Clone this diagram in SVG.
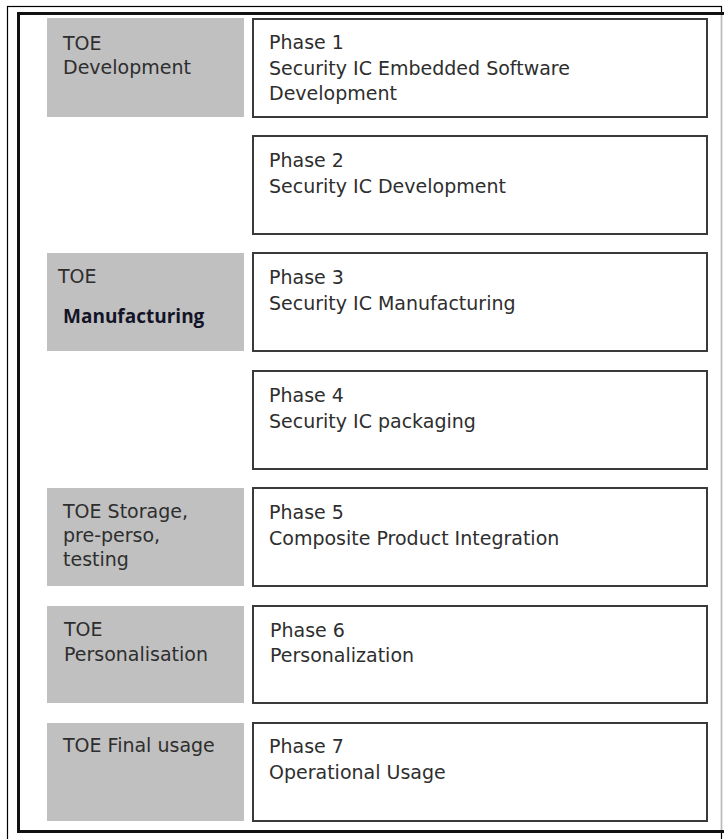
<svg xmlns="http://www.w3.org/2000/svg" width="724" height="839" viewBox="0 0 724 839">
<style>
.stage{fill:#c0c0c0;stroke:none}
.phase{fill:#ffffff;stroke:#3a3a3a;stroke-width:2}
.t{font-family:"DejaVu Sans",Verdana,sans-serif;font-size:19px;fill:#2e2e2e}
.b{font-family:"Open Sans","Noto Sans",sans-serif;font-size:19px;font-weight:bold;fill:#141428}
</style>
<rect width="724" height="839" fill="#ffffff"/>
<g id="frame">
<rect x="7.5" y="6.5" width="714" height="840" fill="none" stroke="#000" stroke-width="1.2"/>
<path d="M724 13.5 H18.5 V831.5 H724" fill="none" stroke="#111" stroke-width="3"/>
<line x1="721.5" y1="15" x2="721.5" y2="830" stroke="#bbbbbb" stroke-width="1"/>
</g>
<g id="connectors"></g>
<g id="stage1"><rect class="stage" x="47" y="18" width="197" height="99"/>
<text class="t" x="63" y="50">TOE</text><text class="t" x="63" y="74">Development</text></g>
<g id="phase1"><rect class="phase" x="253" y="19" width="454" height="98"/>
<text class="t" x="269" y="49">Phase 1</text><text class="t" x="269" y="75">Security IC Embedded Software</text><text class="t" x="269" y="100">Development</text></g>
<g id="phase2"><rect class="phase" x="253" y="136" width="454" height="98"/>
<text class="t" x="269" y="167">Phase 2</text><text class="t" x="269" y="193">Security IC Development</text></g>
<g id="stage2"><rect class="stage" x="47" y="253" width="197" height="98"/>
<text class="t" x="58" y="283">TOE</text><text class="b" x="63" y="323">Manufacturing</text></g>
<g id="phase3"><rect class="phase" x="253" y="253" width="454" height="98"/>
<text class="t" x="269" y="284">Phase 3</text><text class="t" x="269" y="310">Security IC Manufacturing</text></g>
<g id="phase4"><rect class="phase" x="253" y="371" width="454" height="98"/>
<text class="t" x="269" y="402">Phase 4</text><text class="t" x="269" y="428">Security IC packaging</text></g>
<g id="stage3"><rect class="stage" x="47" y="488" width="197" height="98"/>
<text class="t" x="63" y="518">TOE Storage,</text><text class="t" x="63" y="542">pre-perso,</text><text class="t" x="63" y="566">testing</text></g>
<g id="phase5"><rect class="phase" x="253" y="488" width="454" height="98"/>
<text class="t" x="269" y="519">Phase 5</text><text class="t" x="269" y="545">Composite Product Integration</text></g>
<g id="stage4"><rect class="stage" x="47" y="606" width="197" height="97"/>
<text class="t" x="64" y="636">TOE</text><text class="t" x="64" y="661">Personalisation</text></g>
<g id="phase6"><rect class="phase" x="253" y="606" width="454" height="97"/>
<text class="t" x="270" y="637">Phase 6</text><text class="t" x="270" y="662">Personalization</text></g>
<g id="stage5"><rect class="stage" x="47" y="723" width="197" height="98"/>
<text class="t" x="63" y="752">TOE Final usage</text></g>
<g id="phase7"><rect class="phase" x="253" y="723" width="454" height="98"/>
<text class="t" x="269" y="753">Phase 7</text><text class="t" x="269" y="779">Operational Usage</text></g>
</svg>
